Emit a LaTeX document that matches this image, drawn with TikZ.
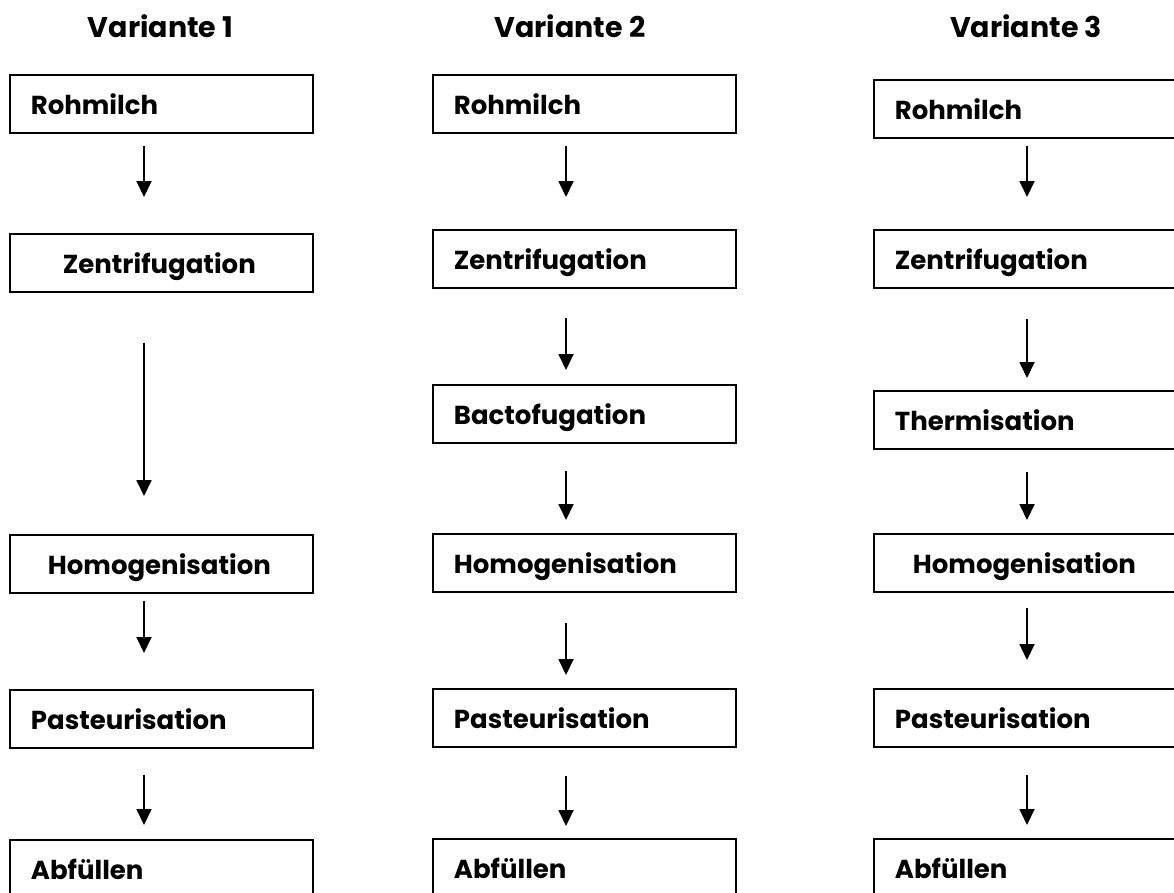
\documentclass[tikz,border=0pt]{standalone}
\usepackage{fontspec}
\setmainfont{Poppins}
\usetikzlibrary{arrows.meta}

\begin{document}
\begin{tikzpicture}[x=1pt,y=-1pt,
  kasten/.style={draw, line width=1.8pt, anchor=north west,
    minimum width=303pt, minimum height=58pt, text width=261pt,
    inner xsep=21pt, inner ysep=0pt, text height=22pt, text depth=0pt,
    align=left, font=\fontsize{26}{30}\selectfont\bfseries},
  titel/.style={anchor=base, font=\fontsize{28.5}{32}\selectfont\bfseries},
  pfeil/.style={line width=1.8pt, -{Triangle[width=15pt,length=16pt]}}]
\useasboundingbox (0,0) rectangle (1174,892);

% column axes for the arrows
\coordinate (s1) at (144,0);
\coordinate (s2) at (566,0);
\coordinate (s3) at (1027,0);

\node [titel] (t1) at (160.5,37) {Variante 1};
\node [titel] (t2) at (570,37) {Variante 2};
\node [titel] (t3) at (1026,37) {Variante 3};

% Variante 1
\node [kasten] (v1roh) at (9,74) {Rohmilch};
\node [kasten] (v1zen) at (9,233) {\hspace*{32pt}Zentrifugation};
\node [kasten] (v1hom) at (9,534) {\hspace*{17pt}Homogenisation};
\node [kasten] (v1pas) at (9,689) {Pasteurisation};
\node [kasten] (v1abf) at (9,839) {Abfüllen};

\draw [pfeil, shorten <=12pt, shorten >=36pt] (v1roh.south -| s1) -- (v1zen.north -| s1);
\draw [pfeil, shorten <=50pt, shorten >=38pt] (v1zen.south -| s1) -- (v1hom.north -| s1);
\draw [pfeil, shorten <=7pt, shorten >=36pt] (v1hom.south -| s1) -- (v1pas.north -| s1);
\draw [pfeil, shorten <=26pt, shorten >=14pt] (v1pas.south -| s1) -- (v1abf.north -| s1);

% Variante 2
\node [kasten] (v2roh) at (432,74) {Rohmilch};
\node [kasten] (v2zen) at (432,229) {Zentrifugation};
\node [kasten] (v2bac) at (432,384) {Bactofugation};
\node [kasten] (v2hom) at (432,533) {Homogenisation};
\node [kasten] (v2pas) at (432,688) {Pasteurisation};
\node [kasten] (v2abf) at (432,838) {Abfüllen};

\draw [pfeil, shorten <=12pt, shorten >=32pt] (v2roh.south -| s2) -- (v2zen.north -| s2);
\draw [pfeil, shorten <=29pt, shorten >=14pt] (v2zen.south -| s2) -- (v2bac.north -| s2);
\draw [pfeil, shorten <=27pt, shorten >=13pt] (v2bac.south -| s2) -- (v2hom.north -| s2);
\draw [pfeil, shorten <=30pt, shorten >=13pt] (v2hom.south -| s2) -- (v2pas.north -| s2);
\draw [pfeil, shorten <=28pt, shorten >=12pt] (v2pas.south -| s2) -- (v2abf.north -| s2);

% Variante 3
\node [kasten] (v3roh) at (873,79) {Rohmilch};
\node [kasten] (v3zen) at (873,229) {Zentrifugation};
\node [kasten] (v3the) at (873,390) {Thermisation};
\node [kasten] (v3hom) at (873,533) {\hspace*{18pt}Homogenisation};
\node [kasten] (v3pas) at (873,688) {Pasteurisation};
\node [kasten] (v3abf) at (873,838) {Abfüllen};

\draw [pfeil, shorten <=7pt, shorten >=32pt] (v3roh.south -| s3) -- (v3zen.north -| s3);
\draw [pfeil, shorten <=30pt, shorten >=12pt] (v3zen.south -| s3) -- (v3the.north -| s3);
\draw [pfeil, shorten <=22pt, shorten >=13pt] (v3the.south -| s3) -- (v3hom.north -| s3);
\draw [pfeil, shorten <=15pt, shorten >=28pt] (v3hom.south -| s3) -- (v3pas.north -| s3);
\draw [pfeil, shorten <=27pt, shorten >=13pt] (v3pas.south -| s3) -- (v3abf.north -| s3);

\end{tikzpicture}
\end{document}
